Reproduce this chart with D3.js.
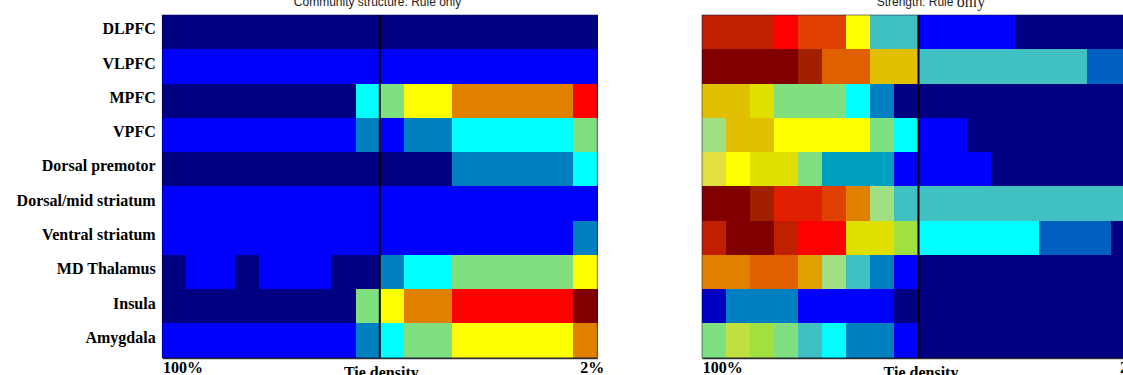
<!DOCTYPE html>
<html>
<head>
<meta charset="utf-8">
<script src="https://cdn.jsdelivr.net/npm/d3@7"></script>
<style>
  body { margin: 0; background: #fff; }
  svg { display: block; }
</style>
</head>
<body>
<svg id="chart" width="1123" height="375"></svg>
<script>
// Regions (rows) and tie-density steps (columns, 100% -> 2%)
const regions = ["DLPFC", "VLPFC", "MPFC", "VPFC", "Dorsal premotor",
    "Dorsal/mid striatum", "Ventral striatum", "MD Thalamus", "Insula", "Amygdala"];
const densitySteps = [0, 1, 2, 3, 4, 5, 6, 7, 8, 9, 10, 11, 12, 13, 14, 15, 16, 17];
const thresholdStep = 9; // black marker line
const densityLabels = ["100%", "Tie density", "2%"];

// Colour levels (low -> high, quantised jet as in the picture)
const palette = ["#000080", "#0000c0", "#0000ff", "#0060c0", "#0080c0", "#00a0c0", "#40c0c0",
    "#00ffff", "#80e080", "#a0e080", "#a0e040", "#c0e040", "#e0e040", "#e0e000", "#ffff00",
    "#e0c000", "#e0a000", "#e08000", "#e06000", "#e04000", "#e02000", "#ff0000", "#c02000",
    "#a02000", "#800000"];

// Community structure: colour level per region, per tie density
const communityDLPFC = [0, 0, 0, 0, 0, 0, 0, 0, 0, 0, 0, 0, 0, 0, 0, 0, 0, 0];
const communityVLPFC = [2, 2, 2, 2, 2, 2, 2, 2, 2, 2, 2, 2, 2, 2, 2, 2, 2, 2];
const communityMPFC = [0, 0, 0, 0, 0, 0, 0, 0, 7, 8, 14, 14, 17, 17, 17, 17, 17, 21];
const communityVPFC = [2, 2, 2, 2, 2, 2, 2, 2, 4, 2, 4, 4, 7, 7, 7, 7, 7, 8];
const communityPremotor = [0, 0, 0, 0, 0, 0, 0, 0, 0, 0, 0, 0, 4, 4, 4, 4, 4, 7];
const communityDorsalStriatum = [2, 2, 2, 2, 2, 2, 2, 2, 2, 2, 2, 2, 2, 2, 2, 2, 2, 2];
const communityVentralStriatum = [2, 2, 2, 2, 2, 2, 2, 2, 2, 2, 2, 2, 2, 2, 2, 2, 2, 4];
const communityThalamus = [0, 2, 2, 0, 2, 2, 2, 0, 0, 4, 7, 7, 8, 8, 8, 8, 8, 14];
const communityInsula = [0, 0, 0, 0, 0, 0, 0, 0, 8, 14, 17, 17, 21, 21, 21, 21, 21, 24];
const communityAmygdala = [2, 2, 2, 2, 2, 2, 2, 2, 4, 7, 8, 8, 14, 14, 14, 14, 14, 17];

// Strength: colour level per region, per tie density
const strengthDLPFC = [22, 22, 22, 21, 19, 19, 14, 6, 6, 2, 2, 2, 2, 0, 0, 0, 0, 0];
const strengthVLPFC = [24, 24, 24, 24, 23, 18, 18, 15, 15, 6, 6, 6, 6, 6, 6, 6, 3, 3];
const strengthMPFC = [15, 15, 13, 8, 8, 8, 7, 4, 0, 0, 0, 0, 0, 0, 0, 0, 0, 0];
const strengthVPFC = [9, 15, 15, 14, 14, 14, 14, 8, 7, 2, 2, 0, 0, 0, 0, 0, 0, 0];
const strengthPremotor = [12, 14, 13, 13, 8, 5, 5, 5, 2, 2, 2, 2, 0, 0, 0, 0, 0, 0];
const strengthDorsalStriatum = [24, 24, 23, 20, 20, 19, 17, 9, 6, 6, 6, 6, 6, 6, 6, 6, 6, 6];
const strengthVentralStriatum = [22, 24, 24, 22, 21, 21, 13, 13, 10, 7, 7, 7, 7, 7, 3, 3, 3, 0];
const strengthThalamus = [17, 17, 18, 18, 16, 9, 6, 4, 2, 0, 0, 0, 0, 0, 0, 0, 0, 0];
const strengthInsula = [1, 4, 4, 4, 2, 2, 2, 2, 0, 0, 0, 0, 0, 0, 0, 0, 0, 0];
const strengthAmygdala = [8, 11, 10, 8, 6, 7, 4, 4, 2, 0, 0, 0, 0, 0, 0, 0, 0, 0];

const communityRows = [communityDLPFC, communityVLPFC, communityMPFC, communityVPFC, communityPremotor,
    communityDorsalStriatum, communityVentralStriatum, communityThalamus, communityInsula, communityAmygdala];
const strengthRows = [strengthDLPFC, strengthVLPFC, strengthMPFC, strengthVPFC, strengthPremotor,
    strengthDorsalStriatum, strengthVentralStriatum, strengthThalamus, strengthInsula, strengthAmygdala];

const svg = d3.select("#chart");
const color = d3.scaleOrdinal().domain(d3.range(palette.length)).range(palette);
const plotTop = 15, plotBottom = 357.7;
const y = d3.scaleBand().domain(regions).range([plotTop, plotBottom]);
const serif = "'Liberation Serif', 'Times New Roman', serif";

function drawPanel(rows, left, width) {
    const x = d3.scaleBand().domain(densitySteps).range([left, left + width]);
    const g = svg.append("g");

    // Cells
    const cells = rows.flatMap((row, i) => row.map((v, j) => ({ region: regions[i], step: densitySteps[j], v })));
    g.append("g")
        .selectAll("rect")
        .data(cells)
        .join("rect")
        .attr("x", d => x(d.step))
        .attr("y", d => y(d.region))
        .attr("width", x.bandwidth() + 0.5)
        .attr("height", y.bandwidth() + 0.5)
        .attr("fill", d => color(d.v))
        .attr("shape-rendering", "crispEdges");

    // Frame
    g.append("rect")
        .attr("x", left).attr("y", plotTop)
        .attr("width", width).attr("height", plotBottom - plotTop)
        .attr("fill", "none")
        .attr("stroke", "#000040")
        .attr("stroke-opacity", 0.5)
        .attr("stroke-width", 1);

    // Threshold marker
    g.append("line")
        .attr("x1", x(thresholdStep)).attr("x2", x(thresholdStep))
        .attr("y1", plotTop).attr("y2", plotBottom)
        .attr("stroke", "#000")
        .attr("stroke-width", 2);

    // Bottom axis line
    g.append("g")
        .attr("transform", `translate(0, ${plotBottom + 0.5})`)
        .call(d3.axisBottom(x).tickSize(0).tickSizeOuter(0).tickFormat(""))
        .select(".domain")
        .attr("stroke", "#000");

    // Axis labels
    const lab = g.append("g")
        .attr("font-family", serif)
        .attr("font-weight", "bold")
        .attr("font-size", 16)
        .attr("fill", "#000");
    lab.append("text").attr("x", left + 0.8).attr("y", 373).text(densityLabels[0]);
    lab.append("text").attr("x", left + 219).attr("y", 378).attr("text-anchor", "middle").text(densityLabels[1]);
    lab.append("text").attr("x", left + 418).attr("y", 373).text(densityLabels[2]);
    return x;
}

// Row labels
const yAxis = svg.append("g")
    .attr("transform", "translate(162.3, 0)")
    .call(d3.axisLeft(y).tickSize(0).tickPadding(6.6));
yAxis.select(".domain").remove();
yAxis.selectAll("text")
    .attr("dy", "0.14em")
    .attr("font-family", serif)
    .attr("font-weight", "bold")
    .attr("font-size", 16)
    .attr("fill", "#000");

drawPanel(communityRows, 162.3, 435);
drawPanel(strengthRows, 702, 433);

// Titles
svg.append("text")
    .attr("x", 377.5).attr("y", 5.5)
    .attr("text-anchor", "middle")
    .attr("font-family", "'Liberation Sans', Arial, sans-serif")
    .attr("font-size", 12)
    .attr("fill", "#222")
    .text("Community structure: Rule only");

const t2 = svg.append("text")
    .attr("x", 876.7).attr("y", 5.5)
    .attr("font-family", "'Liberation Sans', Arial, sans-serif")
    .attr("font-size", 12)
    .attr("fill", "#222");
t2.append("tspan").text("Strength: Rule ");
t2.append("tspan")
    .attr("dy", 1)
    .attr("font-family", serif)
    .attr("font-size", 16)
    .text("only");
</script>
</body>
</html>
